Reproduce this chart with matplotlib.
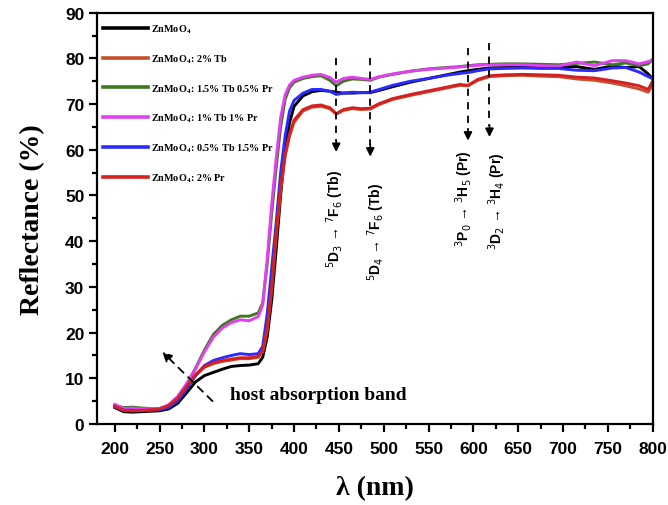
import matplotlib
matplotlib.use("Agg")
import matplotlib.pyplot as plt
from matplotlib.ticker import MultipleLocator

# ── Data ──────────────────────────────────────────────────────────────────────

wavelength = [200, 210, 220, 230, 240, 250, 260, 270, 280, 290, 300, 310, 320,
              330, 340, 350, 360, 365, 370, 375, 380, 385, 390, 395, 400, 410,
              420, 430, 440, 447, 455, 465, 475, 485, 495, 510, 530, 550, 570,
              585, 594, 605, 618, 635, 655, 675, 695, 715, 735, 755, 770, 785,
              795, 800]

znmoo4 = [3.6, 2.7, 2.6, 2.7, 2.8, 2.9, 3.3, 4.5, 6.8, 9.2, 10.6, 11.3, 12.0,
          12.6, 12.8, 12.9, 13.2, 14.6, 19.0, 27.0, 38.0, 50.0, 60.0, 66.0, 69.5, 71.8,
          72.7, 73.0, 72.8, 72.6, 72.4, 72.4, 72.5, 72.5, 73.0, 73.8, 74.8, 75.6, 76.4,
          77.0, 77.3, 77.6, 77.9, 78.0, 78.1, 78.1, 78.1, 78.2, 77.6, 78.3, 78.0, 78.2,
          76.6, 75.5]

tb2 = [3.8, 3.0, 2.9, 3.0, 3.1, 3.3, 4.0, 5.5, 8.0, 10.6, 12.4, 13.2, 13.7,
       14.0, 14.3, 14.3, 14.6, 15.8, 20.5, 29.5, 41.0, 51.0, 58.5, 63.0, 66.0, 68.5,
       69.3, 69.5, 69.0, 67.8, 68.6, 69.0, 68.8, 68.9, 69.9, 71.0, 71.9, 72.7, 73.5,
       74.1, 74.0, 75.2, 76.0, 76.2, 76.3, 76.1, 76.0, 75.5, 75.2, 74.6, 74.0, 73.3,
       72.6, 74.2]

tb15_pr05 = [4.0, 3.6, 3.7, 3.5, 3.4, 3.4, 4.0, 5.8, 8.6, 12.2, 16.2, 19.6, 21.6,
             22.8, 23.6, 23.6, 24.3, 26.5, 35.0, 46.0, 56.0, 65.0, 71.0, 73.6, 74.8, 75.6,
             76.0, 76.2, 75.2, 74.0, 75.0, 75.5, 75.4, 75.2, 75.9, 76.5, 77.2, 77.7, 78.0,
             78.2, 78.4, 78.6, 78.7, 78.8, 78.8, 78.7, 78.6, 78.9, 79.2, 78.6, 79.0, 78.4,
             78.8, 79.8]

tb1_pr1 = [4.3, 3.4, 3.5, 3.3, 3.4, 3.4, 4.2, 6.0, 8.8, 12.0, 15.8, 19.0, 21.0,
           22.2, 22.8, 22.6, 23.5, 26.0, 36.0, 48.0, 58.0, 67.0, 72.0, 74.2, 75.2, 75.9,
           76.3, 76.5, 75.8, 74.8, 75.6, 75.9, 75.6, 75.4, 76.0, 76.6, 77.2, 77.6, 77.9,
           78.1, 78.3, 78.5, 78.6, 78.6, 78.6, 78.4, 78.3, 79.2, 78.4, 79.5, 79.5, 78.8,
           79.3, 79.6]

tb05_pr15 = [3.8, 3.0, 3.0, 2.9, 3.0, 3.1, 3.6, 5.0, 7.6, 10.6, 12.8, 13.9, 14.5,
             15.0, 15.4, 15.2, 15.4, 17.0, 24.0, 34.0, 44.0, 55.0, 63.0, 68.5, 70.8, 72.4,
             73.2, 73.2, 72.8, 72.1, 72.4, 72.6, 72.5, 72.6, 73.2, 74.1, 75.0, 75.6, 76.3,
             76.7, 76.9, 77.3, 77.7, 77.8, 77.9, 77.8, 77.8, 77.4, 77.3, 77.9, 78.0, 77.0,
             76.0, 75.6]

pr2 = [3.9, 3.0, 2.9, 3.0, 3.1, 3.3, 4.0, 5.6, 8.2, 10.8, 12.6, 13.4, 13.9,
       14.2, 14.5, 14.5, 14.8, 16.0, 21.0, 30.0, 42.0, 52.0, 59.0, 63.5, 66.5, 68.8,
       69.6, 69.8, 69.2, 67.9, 68.8, 69.2, 69.0, 69.1, 70.1, 71.2, 72.1, 72.9, 73.7,
       74.3, 74.1, 75.4, 76.2, 76.4, 76.5, 76.4, 76.3, 75.9, 75.7, 75.1, 74.6, 74.0,
       73.2, 75.0]

series_labels = [
    r"ZnMoO$_\mathbf{4}$",
    r"ZnMoO$_\mathbf{4}$: 2% Tb",
    r"ZnMoO$_\mathbf{4}$: 1.5% Tb 0.5% Pr",
    r"ZnMoO$_\mathbf{4}$: 1% Tb 1% Pr",
    r"ZnMoO$_\mathbf{4}$: 0.5% Tb 1.5% Pr",
    r"ZnMoO$_\mathbf{4}$: 2% Pr",
]
series_colors = ["#000000", "#c4502e", "#3b7a1c", "#e040f0", "#2a2aff", "#d42020"]

# transitions: (wavelength, arrow top, arrow bottom, label, label x, label y)
transitions = [
    (447, 80.0, 59.5, r"$^5$D$_3$ → $^7$F$_6$ (Tb)", 446, 45.0),
    (485, 80.0, 58.5, r"$^5$D$_4$ → $^7$F$_6$ (Tb)", 492, 42.3),
    (594, 82.2, 62.0, r"$^3$P$_0$ → $^3$H$_5$ (Pr)", 590, 49.5),
    (618, 83.3, 62.8, r"$^3$D$_2$ → $^3$H$_4$ (Pr)", 627, 49.0),
]

SERIF = ["Liberation Serif", "DejaVu Serif"]
SANS = ["Liberation Sans", "DejaVu Sans"]

# ── Figure ────────────────────────────────────────────────────────────────────

fig = plt.figure(figsize=(6.68, 5.06), dpi=100)
ax = fig.add_axes([0.145, 0.160, 0.832, 0.813])

all_series = [znmoo4, tb2, tb15_pr05, tb1_pr1, tb05_pr15, pr2]
for values, label, color in zip(all_series, series_labels, series_colors):
    ax.plot(wavelength, values, color=color, lw=2.1, label=label)

ax.set_xlim(180, 800)
ax.set_ylim(0, 90)
ax.xaxis.set_major_locator(MultipleLocator(50))
ax.xaxis.set_minor_locator(MultipleLocator(25))
ax.yaxis.set_major_locator(MultipleLocator(10))
ax.yaxis.set_minor_locator(MultipleLocator(5))
ax.tick_params(which="major", direction="out", length=6, width=1.6, pad=6)
ax.tick_params(which="minor", direction="out", length=3.5, width=1.6)
ax.tick_params(axis="y", pad=3)
for lab in ax.get_xticklabels() + ax.get_yticklabels():
    lab.set_fontfamily(SANS)
    lab.set_fontweight("bold")
    lab.set_fontsize(12.5)
for sp in ax.spines.values():
    sp.set_linewidth(1.6)

ax.set_xlabel(r"λ (nm)", fontfamily=SERIF, fontweight="bold", fontsize=20, labelpad=14)
ax.set_ylabel("Reflectance (%)", fontfamily=SERIF, fontweight="bold", fontsize=20, labelpad=14)

# transition markers
for x, ytop, ybot, text, tx, ty in transitions:
    ax.plot([x, x], [ytop, ybot + 2.5], color="black", lw=1.3, ls=(0, (4, 3.5)))
    ax.annotate("", xy=(x, ybot), xytext=(x, ybot + 2.6),
                arrowprops=dict(arrowstyle="-|>", color="black", lw=1.3,
                                mutation_scale=12, shrinkA=0, shrinkB=0))
    ax.text(tx, ty, text, rotation=90, ha="center", va="center",
            fontfamily=SANS, fontweight="bold", fontsize=10,
            math_fontfamily="dejavusans")

# host absorption band
ax.annotate("", xy=(253, 15.8), xytext=(309, 5.0),
            arrowprops=dict(arrowstyle="-|>", color="black", lw=1.3,
                            ls=(0, (4, 3.5)), mutation_scale=14,
                            shrinkA=0, shrinkB=0))
ax.text(329, 6.5, "host absorption band", fontfamily=SERIF, fontweight="bold",
        fontsize=14, ha="left", va="center")

leg = ax.legend(loc="upper left", bbox_to_anchor=(0.0, 0.992), frameon=False,
                handlelength=4.4, handletextpad=0.25, labelspacing=1.7,
                borderaxespad=0.25,
                prop={"family": SERIF, "weight": "bold", "size": 7.3})
for t in leg.get_texts():
    t.set_math_fontfamily("stix")
for ln in leg.get_lines():
    ln.set_linewidth(2.6)

fig.savefig("out.png", dpi=100)
